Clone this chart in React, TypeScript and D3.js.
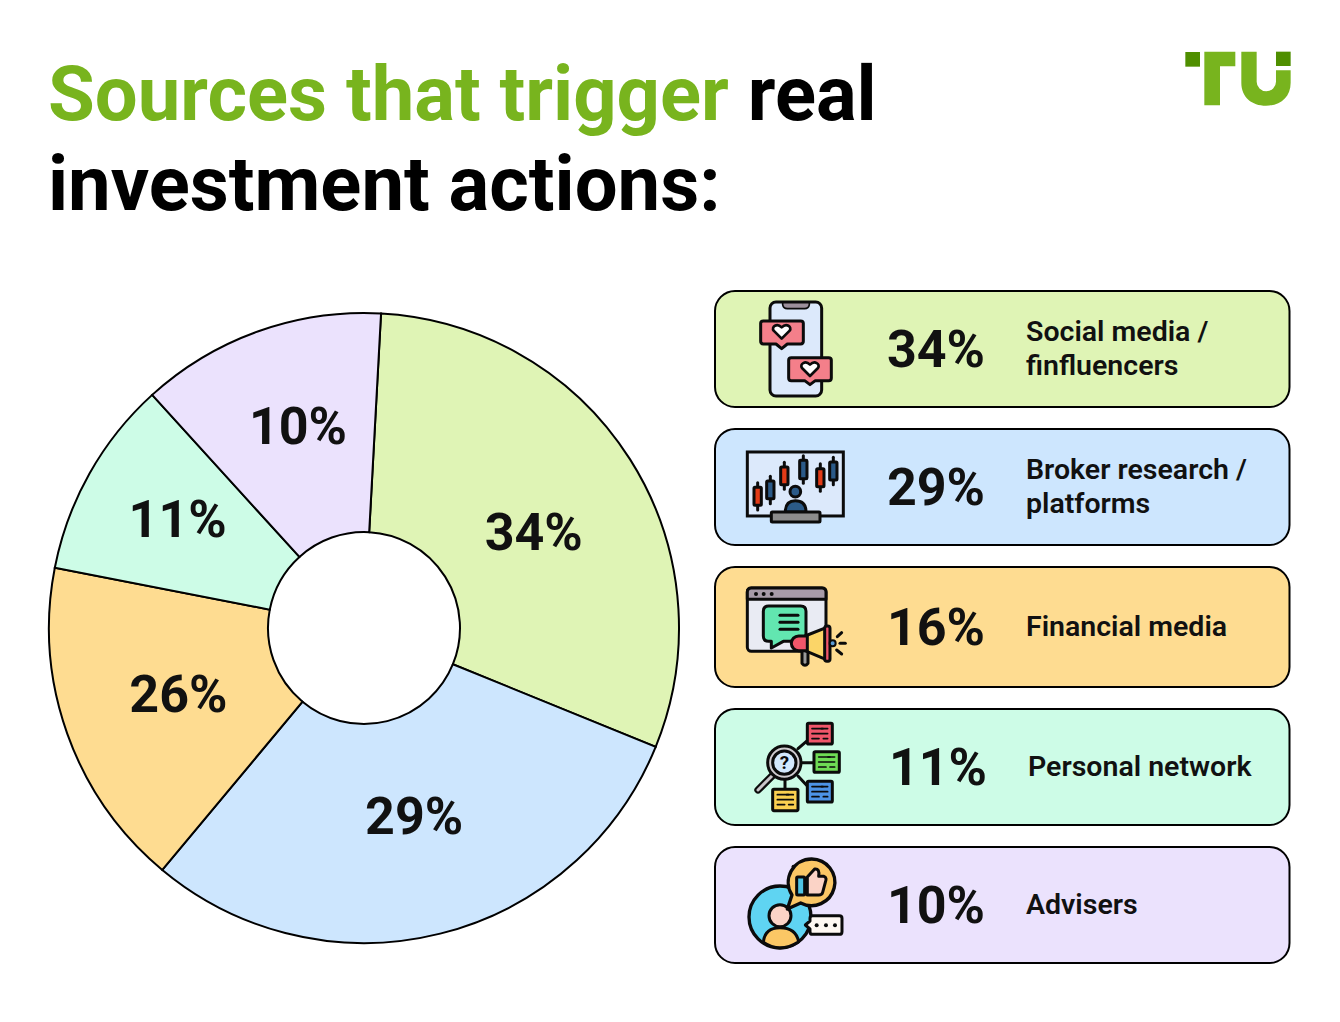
import React from "react";
import * as d3 from "d3";

// Labels printed on the chart
const sliceLabels = ["34%", "29%", "26%", "11%", "10%"];
const panelPercents = ["34%", "29%", "16%", "11%", "10%"];
const panelLines = [
  ["Social media /", "finfluencers"],
  ["Broker research /", "platforms"],
  ["Financial media"],
  ["Personal network"],
  ["Advisers"],
];
// Slice sizes as drawn (share of the circle)
const sliceShares = [30.3, 29.9, 17.0, 10.2, 12.6];
const sliceColors = ["#DFF4B5", "#CDE6FE", "#FEDC91", "#CDFCE7", "#EBE2FD"];
const panelColors = ["#DFF4B5", "#CDE6FE", "#FEDC91", "#CDFCE7", "#EBE2FD"];

const FONT = "Roboto, sans-serif";
const INK = "#111111";
const cx = 364, cy = 628, outerR = 315, innerR = 96;
const startDeg = 3.1;
const labelR = [195, 195, 197, 215, 212];
const labelNudge = [[5, 8], [3, -1], [0, 0], [1, -4], [5, -2]];

const panels = [
  { y: 291, h: 116 }, { y: 429, h: 116 }, { y: 567, h: 120 }, { y: 709, h: 116 }, { y: 847, h: 116 },
];
const pctX = [936, 936, 936, 938, 936];
const textX = [1026, 1026, 1026, 1028, 1026];

const s = { stroke: "#0b0b0b", strokeWidth: 9, strokeLinejoin: "round" as const, strokeLinecap: "round" as const };

function Heart({ x, y }: { x: number; y: number }) {
  return (
    <path transform={`translate(${x},${y})`} d="M0 22 L-24 -2 C-32 -14 -14 -26 0 -12 C14 -26 32 -14 24 -2 Z" fill="#fff" {...s} strokeWidth={8} />
  );
}

function IconPhone() {
  return (
    <g transform="translate(730,290) scale(0.3333)">
      <rect x={120} y={36} width={155} height={282} rx={18} fill="#DCE9FB" {...s} />
      <path d="M158 38 H238 V44 Q236 56 224 56 H172 Q160 56 158 44 Z" fill="#9C8F9B" {...s} strokeWidth={5} />
      <path d="M92 100 Q92 93 100 93 H212 Q220 93 220 100 V154 Q220 162 212 162 H172 L155 176 L138 162 H100 Q92 162 92 154 Z" fill="#F47F8A" {...s} />
      <Heart x={155} y={124} />
      <path d="M176 210 Q176 203 184 203 H296 Q304 203 304 210 V264 Q304 272 296 272 H256 L240 284 L224 272 H184 Q176 272 176 264 Z" fill="#F47F8A" {...s} />
      <Heart x={240} y={236} />
    </g>
  );
}

const candles = [
  { x: 83, t: 592, b: 646, wt: 578, wb: 660, c: "#E23B17" },
  { x: 121, t: 573, b: 626, wt: 559, wb: 641, c: "#2B5A88" },
  { x: 163, t: 531, b: 584, wt: 517, wb: 598, c: "#E23B17" },
  { x: 220, t: 511, b: 566, wt: 497, wb: 580, c: "#2B5A88" },
  { x: 271, t: 536, b: 590, wt: 521, wb: 604, c: "#E23B17" },
  { x: 310, t: 516, b: 570, wt: 502, wb: 584, c: "#2B5A88" },
];

function IconScreen() {
  return (
    <g transform="translate(730,290) scale(0.3333)">
      <rect x={52} y={486} width={288} height={192} fill="#DCE9FB" {...s} strokeLinejoin="miter" />
      {candles.map((k, i) => (
        <g key={i}>
          <line x1={k.x} x2={k.x} y1={k.wt} y2={k.wb} {...s} />
          <rect x={k.x - 11} y={k.t} width={22} height={k.b - k.t} rx={3} fill={k.c} {...s} />
        </g>
      ))}
      <circle cx={196} cy={605} r={16} fill="#2B5A88" {...s} />
      <path d="M166 666 Q166 632 196 632 Q228 632 228 666 Z" fill="#2B5A88" {...s} />
      <rect x={124} y={666} width={146} height={30} rx={3} fill="#8C8C8C" {...s} />
    </g>
  );
}

function IconMedia() {
  return (
    <g transform="translate(730,570) scale(0.3333)">
      <rect x={52} y={54} width={236} height={190} rx={12} fill="#E9EBF3" {...s} />
      <path d="M52 88 V66 Q52 54 64 54 H276 Q288 54 288 66 V88 Z" fill="#A79BA8" {...s} />
      {[78, 101, 125].map((x) => <circle key={x} cx={x} cy={72} r={6} fill="#0b0b0b" />)}
      <path d="M116 108 H212 Q228 108 228 124 V198 Q228 214 212 214 H160 L124 234 L124 214 H116 Q100 214 100 198 V124 Q100 108 116 108 Z" fill="#62E6B0" {...s} />
      {[136, 157, 178].map((y) => <line key={y} x1={150} x2={204} y1={y} y2={y} {...s} />)}
      <path d="M216 240 H234 V280 Q225 292 216 280 Z" fill="#9A9A9A" {...s} />
      <path d="M225 198 L296 170 V272 L225 242 Z" fill="#FBD568" {...s} />
      <path d="M232 198 V242 H206 A22 22 0 0 1 206 198 Z" fill="#F0566A" {...s} />
      <rect x={284} y={168} width={16} height={106} rx={7} fill="#F0566A" {...s} />
      <circle cx={308} cy={220} r={9} fill="#5B9BD5" {...s} strokeWidth={6} />
      <line x1={322} y1={200} x2={335} y2={188} {...s} />
      <line x1={330} y1={220} x2={346} y2={220} {...s} />
      <line x1={320} y1={240} x2={335} y2={252} {...s} />
    </g>
  );
}

const noteBoxes = [
  { x: 232, y: 460, w: 75, h: 62, c: "#F0566A" },
  { x: 252, y: 545, w: 76, h: 62, c: "#6FDC55" },
  { x: 232, y: 634, w: 75, h: 62, c: "#4D93E6" },
  { x: 128, y: 658, w: 76, h: 64, c: "#FBD050" },
];
const connectors = [
  [204, 536, 232, 512], [214, 578, 252, 578], [204, 618, 232, 648], [165, 630, 165, 658],
];

function IconNetwork() {
  return (
    <g transform="translate(730,570) scale(0.3333)">
      {connectors.map((c, i) => <line key={i} x1={c[0]} y1={c[1]} x2={c[2]} y2={c[3]} {...s} />)}
      {noteBoxes.map((b, i) => (
        <g key={i}>
          <rect x={b.x} y={b.y} width={b.w} height={b.h} rx={4} fill={b.c} {...s} />
          <line x1={b.x + 14} x2={b.x + b.w - 28} y1={b.y + 16} y2={b.y + 16} {...s} strokeWidth={5} />
          <line x1={b.x + 42} x2={b.x + b.w - 14} y1={b.y + 16} y2={b.y + 16} {...s} strokeWidth={5} />
          <line x1={b.x + 14} x2={b.x + b.w - 14} y1={b.y + 31} y2={b.y + 31} {...s} strokeWidth={5} />
          <line x1={b.x + 14} x2={b.x + b.w - 40} y1={b.y + 46} y2={b.y + 46} {...s} strokeWidth={5} />
          <line x1={b.x + 48} x2={b.x + b.w - 14} y1={b.y + 46} y2={b.y + 46} {...s} strokeWidth={5} />
        </g>
      ))}
      <line x1={84} y1={660} x2={128} y2={616} stroke="#0b0b0b" strokeWidth={22} strokeLinecap="round" />
      <line x1={84} y1={660} x2={128} y2={616} stroke="#C9C5C9" strokeWidth={9} strokeLinecap="round" />
      <circle cx={163} cy={578} r={50} fill="#CFCBCF" {...s} />
      <circle cx={163} cy={578} r={35} fill="#D3E8FC" {...s} />
      <text x={163} y={598} textAnchor="middle" fontFamily={FONT} fontWeight={700} fontSize={56} fill="#0b0b0b">?</text>
    </g>
  );
}

function IconAdvisers() {
  return (
    <g transform="translate(730,845) scale(0.3333)">
      <circle cx={150} cy={216} r={93} fill="#5FD4F2" {...s} strokeWidth={10} />
      <path d="M100 292 Q104 248 150 248 Q198 248 206 290 Q150 326 100 292 Z" fill="#FBC765" {...s} />
      <circle cx={150} cy={212} r={33} fill="#FBD3C6" {...s} />
      <path d="M245 42 A70 70 0 1 1 212 174 L172 192 L186 150 A70 70 0 0 1 245 42 Z" fill="#FBC765" {...s} strokeWidth={10} />
      <rect x={200} y={96} width={24} height={54} rx={3} fill="#4FC4E4" {...s} />
      <path d="M232 96 L254 72 Q270 70 266 94 H282 Q292 98 286 112 L278 142 Q276 150 266 150 H232 Z" fill="#FBD3C6" {...s} />
      <path d="M248 212 H328 Q336 212 336 220 V260 Q336 268 328 268 H248 Q240 268 240 260 V252 L226 240 L240 228 V220 Q240 212 248 212 Z" fill="#FFF8F2" {...s} />
      {[260, 288, 315].map((x) => <circle key={x} cx={x} cy={241} r={6} fill="#0b0b0b" />)}
      <circle cx={190} cy={64} r={5} fill="#0b0b0b" />
    </g>
  );
}

function Logo() {
  return (
    <g transform="translate(1170,40) scale(0.3333)">
      <rect x={46} y={36} width={44} height={44} fill="#4F8F00" />
      <path d="M103 35 H196 V79 H150 V196 H103 Z" fill="#78B41E" />
      <path d="M214 35 H260 V125 A29 29 0 0 0 318 125 V91 H362 V128 C362 172 330 197 288 197 C246 197 214 172 214 128 Z" fill="#78B41E" />
      <rect x={318} y={35} width={44} height={43} fill="#4F8F00" />
    </g>
  );
}

const icons = [IconPhone, IconScreen, IconMedia, IconNetwork, IconAdvisers];

export default function App() {
  const pie = d3.pie<number>().sort(null).value((d) => d)
    .startAngle((startDeg * Math.PI) / 180).endAngle(((startDeg + 360) * Math.PI) / 180);
  const arc = d3.arc<d3.PieArcDatum<number>>().innerRadius(innerR).outerRadius(outerR);
  const arcs = pie(sliceShares);

  return (
    <svg width={1340} height={1022} style={{ position: "absolute", left: 0, top: 0, background: "#fff" }}>
      <text x={48} y={120} fontFamily={FONT} fontWeight={700} fontSize={76} fill="#78B41E">
        Sources that trigger <tspan fill="#000">real</tspan>
      </text>
      <text x={48} y={210} fontFamily={FONT} fontWeight={700} fontSize={76} fill="#000">investment actions:</text>
      <Logo />

      <g transform={`translate(${cx},${cy})`}>
        {arcs.map((a, i) => (
          <path key={i} d={arc(a) || ""} fill={sliceColors[i]} stroke="#000" strokeWidth={2} />
        ))}
        {arcs.map((a, i) => {
          const [x, y] = d3.arc<d3.PieArcDatum<number>>().innerRadius(labelR[i]).outerRadius(labelR[i]).centroid(a);
          return (
            <text key={i} x={x + labelNudge[i][0]} y={y + 18 + labelNudge[i][1]} textAnchor="middle" fontFamily={FONT} fontWeight={700} fontSize={52} fill={INK}>
              {sliceLabels[i]}
            </text>
          );
        })}
      </g>

      {panels.map((p, i) => {
        const Icon = icons[i];
        const mid = p.y + p.h / 2;
        const lines = panelLines[i];
        return (
          <g key={i}>
            <rect x={715} y={p.y} width={574.5} height={p.h} rx={20} fill={panelColors[i]} stroke="#000" strokeWidth={2} />
            <Icon />
            <text x={pctX[i]} y={mid + 18} textAnchor="middle" fontFamily={FONT} fontWeight={700} fontSize={52} fill={INK}>
              {panelPercents[i]}
            </text>
            {lines.map((l, j) => (
              <text key={j} x={textX[i]} y={mid + 9 + (j - (lines.length - 1) / 2) * 34} fontFamily={FONT} fontWeight={600} fontSize={28.5} fill={INK}>
                {l}
              </text>
            ))}
          </g>
        );
      })}
    </svg>
  );
}
